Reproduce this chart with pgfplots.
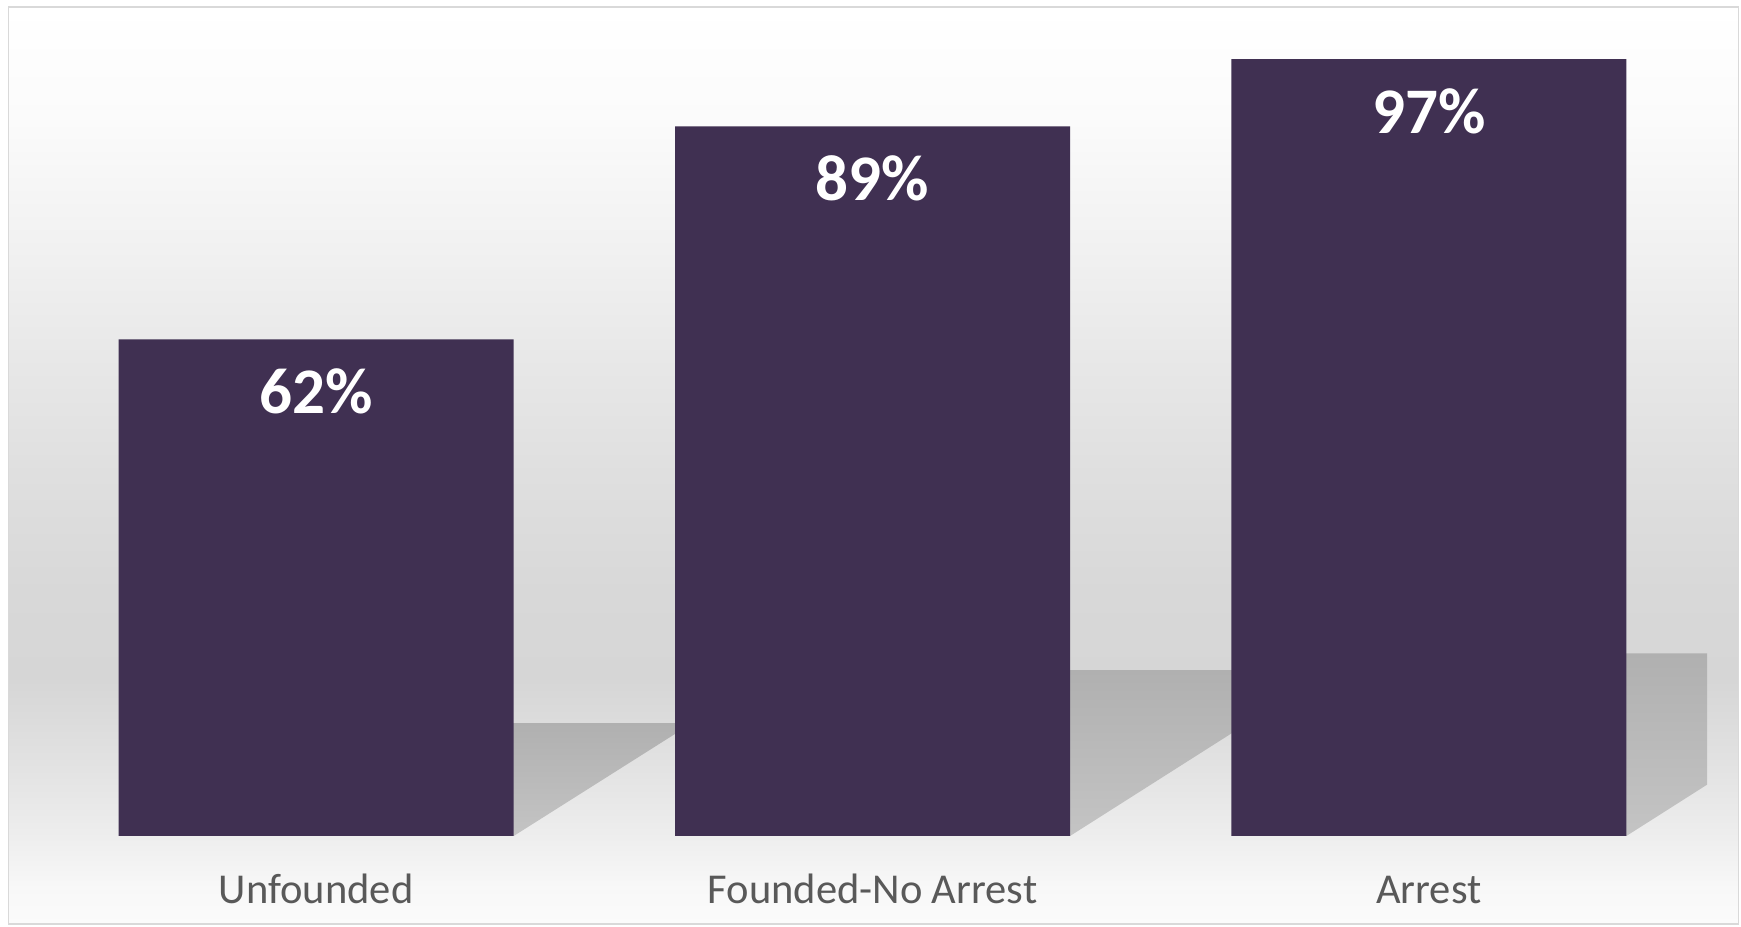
\documentclass[border=0pt]{standalone}
\usepackage{pgfplots}
\pgfplotsset{compat=1.18}
\usepackage{fontspec}
\setmainfont{Carlito}[Numbers=Lining]
\definecolor{barcol}{RGB}{64,48,82}
\definecolor{tickcol}{RGB}{89,89,89}
\definecolor{bordercol}{RGB}{217,217,217}
\definecolor{shtop}{RGB}{176,176,176}
\definecolor{shbot}{RGB}{196,196,196}
\pgfdeclareverticalshading{bgshade}{100bp}{%
  rgb(0bp)=(0.984,0.984,0.984);
  rgb(25bp)=(0.984,0.984,0.984);
  rgb(26.96bp)=(0.973,0.973,0.973);
  rgb(29.74bp)=(0.933,0.933,0.933);
  rgb(33.45bp)=(0.890,0.890,0.890);
  rgb(38.3bp)=(0.839,0.839,0.839);
  rgb(43.1bp)=(0.847,0.847,0.847);
  rgb(49.6bp)=(0.875,0.875,0.875);
  rgb(56.0bp)=(0.910,0.910,0.910);
  rgb(62.5bp)=(0.949,0.949,0.949);
  rgb(68.8bp)=(0.984,0.984,0.984);
  rgb(75bp)=(1,1,1);
  rgb(100bp)=(1,1,1)}
\begin{document}
\begin{tikzpicture}
\useasboundingbox (-3.8mm,-9.1mm) rectangle (170.3mm,83.6mm);
\shade[shading=bgshade] (-2.95mm,-8.8mm) rectangle (170.05mm,82.9mm);
\draw[bordercol, line width=0.15mm] (-2.95mm,-8.8mm) rectangle (170.05mm,82.9mm);
\begin{axis}[
  at={(0,0)}, anchor=south west,
  scale only axis,
  width=166.9mm, height=80.1mm,
  xmin=-0.5, xmax=2.5, ymin=0, ymax=100,
  axis line style={draw=none},
  ytick=\empty,
  xtick={0,1,2},
  xticklabels={Unfounded,Founded-No Arrest,Arrest},
  major tick length=0pt,
  xtick style={draw=none},
  xticklabel style={font=\fontsize{12.1}{13}\selectfont, text=tickcol, anchor=base, yshift=-6.8mm},
]
\addplot[draw=none, top color=shtop, bottom color=shbot, forget plot]
  coordinates {(-0.355,0) (0.355,0) (0.676,14.1) (-0.034,14.1)} -- cycle;
\addplot[draw=none, top color=shtop, bottom color=shbot, forget plot]
  coordinates {(0.645,0) (1.355,0) (1.824,20.7) (1.114,20.7)} -- cycle;
\addplot[draw=none, top color=shtop, bottom color=shbot, forget plot]
  coordinates {(1.645,0) (2.355,0) (2.871,22.8) (2.161,22.8)} -- cycle;
\addplot[ybar, bar width=39.5mm, fill=barcol, draw=none,
  point meta=explicit symbolic,
  nodes near coords,
  nodes near coords style={font=\fontsize{18.5}{20}\selectfont\bfseries, text=white, anchor=base, yshift=-7.4mm}]
  coordinates {(0,62) [62\%] (1,88.6) [89\%] (2,97) [97\%]};
\end{axis}
\end{tikzpicture}
\end{document}
